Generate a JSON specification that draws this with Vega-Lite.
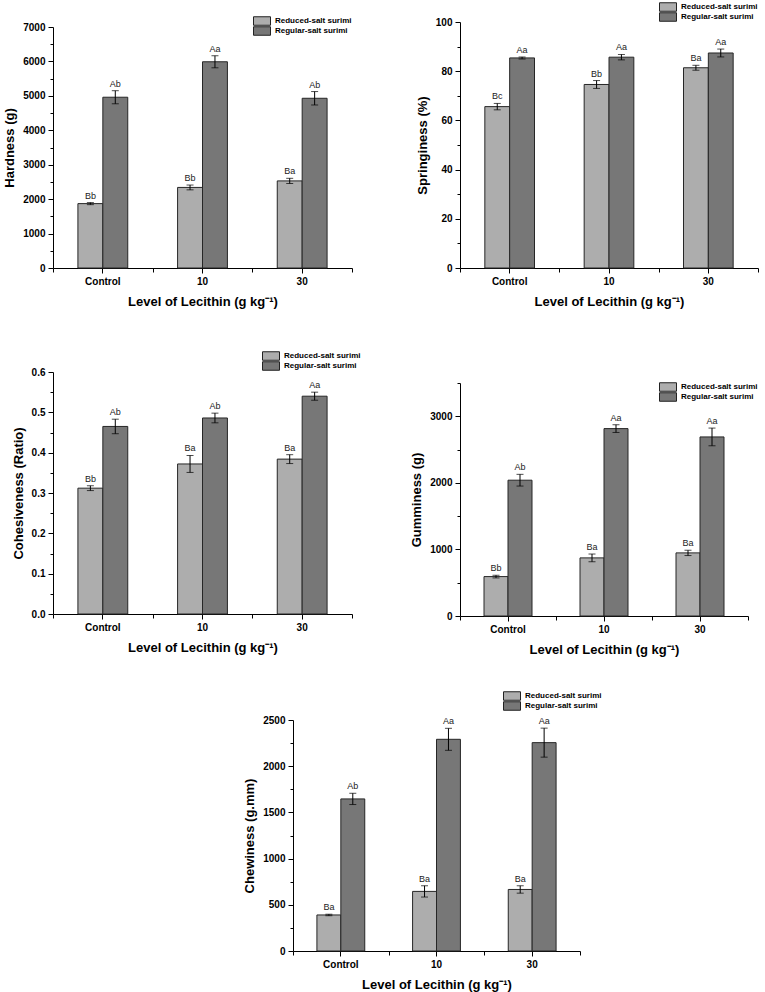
{
  "$schema": "https://vega.github.io/schema/vega-lite/v6.json",
  "background": "white",
  "padding": {"left": 3, "top": 2, "right": 2, "bottom": 2},
  "datasets": {
    "d": [
      {"p": "A", "level": "Control", "salt": "Reduced-salt surimi", "value": 1870, "lo": 1840, "hi": 1900, "letter": "Bb"},
      {"p": "A", "level": "Control", "salt": "Regular-salt surimi", "value": 4960, "lo": 4770, "hi": 5150, "letter": "Ab"},
      {"p": "A", "level": "10", "salt": "Reduced-salt surimi", "value": 2340, "lo": 2270, "hi": 2410, "letter": "Bb"},
      {"p": "A", "level": "10", "salt": "Regular-salt surimi", "value": 5990, "lo": 5815, "hi": 6165, "letter": "Aa"},
      {"p": "A", "level": "30", "salt": "Reduced-salt surimi", "value": 2530, "lo": 2455, "hi": 2605, "letter": "Ba"},
      {"p": "A", "level": "30", "salt": "Regular-salt surimi", "value": 4930, "lo": 4735, "hi": 5125, "letter": "Ab"},
      {"p": "B", "level": "Control", "salt": "Reduced-salt surimi", "value": 65.6, "lo": 64.3, "hi": 66.9, "letter": "Bc"},
      {"p": "B", "level": "Control", "salt": "Regular-salt surimi", "value": 85.4, "lo": 85.0, "hi": 85.8, "letter": "Aa"},
      {"p": "B", "level": "10", "salt": "Reduced-salt surimi", "value": 74.6, "lo": 73.0, "hi": 76.2, "letter": "Bb"},
      {"p": "B", "level": "10", "salt": "Regular-salt surimi", "value": 85.7, "lo": 84.6, "hi": 86.8, "letter": "Aa"},
      {"p": "B", "level": "30", "salt": "Reduced-salt surimi", "value": 81.4, "lo": 80.4, "hi": 82.4, "letter": "Ba"},
      {"p": "B", "level": "30", "salt": "Regular-salt surimi", "value": 87.4, "lo": 85.8, "hi": 89.0, "letter": "Aa"},
      {"p": "C", "level": "Control", "salt": "Reduced-salt surimi", "value": 0.312, "lo": 0.306, "hi": 0.318, "letter": "Bb"},
      {"p": "C", "level": "Control", "salt": "Regular-salt surimi", "value": 0.465, "lo": 0.447, "hi": 0.483, "letter": "Ab"},
      {"p": "C", "level": "10", "salt": "Reduced-salt surimi", "value": 0.372, "lo": 0.351, "hi": 0.393, "letter": "Ba"},
      {"p": "C", "level": "10", "salt": "Regular-salt surimi", "value": 0.486, "lo": 0.474, "hi": 0.498, "letter": "Ab"},
      {"p": "C", "level": "30", "salt": "Reduced-salt surimi", "value": 0.384, "lo": 0.373, "hi": 0.395, "letter": "Ba"},
      {"p": "C", "level": "30", "salt": "Regular-salt surimi", "value": 0.540, "lo": 0.530, "hi": 0.550, "letter": "Aa"},
      {"p": "D", "level": "Control", "salt": "Reduced-salt surimi", "value": 592, "lo": 572, "hi": 612, "letter": "Bb"},
      {"p": "D", "level": "Control", "salt": "Regular-salt surimi", "value": 2040, "lo": 1952, "hi": 2128, "letter": "Ab"},
      {"p": "D", "level": "10", "salt": "Reduced-salt surimi", "value": 873, "lo": 815, "hi": 931, "letter": "Ba"},
      {"p": "D", "level": "10", "salt": "Regular-salt surimi", "value": 2815, "lo": 2757, "hi": 2873, "letter": "Aa"},
      {"p": "D", "level": "30", "salt": "Reduced-salt surimi", "value": 948, "lo": 908, "hi": 988, "letter": "Ba"},
      {"p": "D", "level": "30", "salt": "Regular-salt surimi", "value": 2690, "lo": 2557, "hi": 2823, "letter": "Aa"},
      {"p": "E", "level": "Control", "salt": "Reduced-salt surimi", "value": 390, "lo": 382, "hi": 398, "letter": "Ba"},
      {"p": "E", "level": "Control", "salt": "Regular-salt surimi", "value": 1646, "lo": 1585, "hi": 1707, "letter": "Ab"},
      {"p": "E", "level": "10", "salt": "Reduced-salt surimi", "value": 645, "lo": 584, "hi": 706, "letter": "Ba"},
      {"p": "E", "level": "10", "salt": "Regular-salt surimi", "value": 2291, "lo": 2172, "hi": 2410, "letter": "Aa"},
      {"p": "E", "level": "30", "salt": "Reduced-salt surimi", "value": 666, "lo": 626, "hi": 706, "letter": "Ba"},
      {"p": "E", "level": "30", "salt": "Regular-salt surimi", "value": 2255, "lo": 2098, "hi": 2412, "letter": "Aa"}
    ]
  },
  "data": {"name": "d"},
  "columns": 2,
  "align": "none",
  "bounds": "flush",
  "spacing": {"row": 104, "column": 108},
  "resolve": {
    "scale": {"x": "independent", "y": "independent", "color": "independent", "xOffset": "independent"},
    "axis": {"x": "independent", "y": "independent"},
    "legend": {"color": "independent"}
  },
  "concat": [
    {
      "width": 299, "height": 246,
      "transform": [{"filter": "datum.p == 'A'"}],
      "resolve": {"axis": {"x": "independent", "y": "independent"}},
      "layer": [
        {"mark": {"type": "bar", "stroke": "#262626", "strokeWidth": 1},
         "encoding": {
           "x": {"field": "level", "type": "nominal", "sort": ["Control", "10", "30"], "scale": {"paddingInner": 0, "paddingOuter": 0}, "axis": {"title": "Level of Lecithin (g kg⁻¹)", "labelAngle": 0}},
           "xOffset": {"field": "salt", "type": "nominal", "sort": ["Reduced-salt surimi", "Regular-salt surimi"], "scale": {"paddingInner": 0, "paddingOuter": 1}},
           "y": {"field": "value", "type": "quantitative", "scale": {"domain": [0, 7000], "nice": false, "range": [246, 5]}, "axis": {"values": [0, 1000, 2000, 3000, 4000, 5000, 6000, 7000], "title": "Hardness (g)", "format": "d"}},
           "color": {"field": "salt", "type": "nominal", "scale": {"domain": ["Reduced-salt surimi", "Regular-salt surimi"], "range": ["#adadad", "#777777"]},
             "legend": {"title": null, "orient": "none", "legendX": 204, "legendY": -6}}
         }},
        {"mark": {"type": "rule", "color": "#000000", "strokeWidth": 1},
         "encoding": {
           "x": {"field": "level", "type": "nominal", "sort": ["Control", "10", "30"], "axis": null},
           "xOffset": {"field": "salt", "type": "nominal", "sort": ["Reduced-salt surimi", "Regular-salt surimi"]},
           "y": {"field": "lo", "type": "quantitative", "axis": null}, "y2": {"field": "hi"}
         }},
        {"mark": {"type": "tick", "color": "#000000", "size": 7, "thickness": 1},
         "encoding": {
           "x": {"field": "level", "type": "nominal", "sort": ["Control", "10", "30"], "axis": null},
           "xOffset": {"field": "salt", "type": "nominal", "sort": ["Reduced-salt surimi", "Regular-salt surimi"]},
           "y": {"field": "lo", "type": "quantitative", "axis": null}
         }},
        {"mark": {"type": "tick", "color": "#000000", "size": 7, "thickness": 1},
         "encoding": {
           "x": {"field": "level", "type": "nominal", "sort": ["Control", "10", "30"], "axis": {"orient": "bottom", "tickBand": "extent", "labels": false, "domain": false, "title": null, "tickSize": 4}},
           "xOffset": {"field": "salt", "type": "nominal", "sort": ["Reduced-salt surimi", "Regular-salt surimi"]},
           "y": {"field": "hi", "type": "quantitative", "axis": {"orient": "left", "values": [500, 1500, 2500, 3500, 4500, 5500, 6500], "labels": false, "domain": false, "title": null, "tickSize": 3}}
         }},
        {"mark": {"type": "text", "baseline": "bottom", "dy": -2, "fontSize": 9, "color": "#222222"},
         "encoding": {
           "x": {"field": "level", "type": "nominal", "sort": ["Control", "10", "30"], "axis": null},
           "xOffset": {"field": "salt", "type": "nominal", "sort": ["Reduced-salt surimi", "Regular-salt surimi"]},
           "y": {"field": "hi", "type": "quantitative", "axis": null},
           "text": {"field": "letter"}
         }}
      ]
    },
    {
      "width": 298, "height": 246,
      "transform": [{"filter": "datum.p == 'B'"}],
      "resolve": {"axis": {"x": "independent", "y": "independent"}},
      "layer": [
        {"mark": {"type": "bar", "stroke": "#262626", "strokeWidth": 1},
         "encoding": {
           "x": {"field": "level", "type": "nominal", "sort": ["Control", "10", "30"], "scale": {"paddingInner": 0, "paddingOuter": 0}, "axis": {"title": "Level of Lecithin (g kg⁻¹)", "labelAngle": 0}},
           "xOffset": {"field": "salt", "type": "nominal", "sort": ["Reduced-salt surimi", "Regular-salt surimi"], "scale": {"paddingInner": 0, "paddingOuter": 1}},
           "y": {"field": "value", "type": "quantitative", "scale": {"domain": [0, 100], "nice": false}, "axis": {"values": [0, 20, 40, 60, 80, 100], "title": "Springiness (%)", "format": "d"}},
           "color": {"field": "salt", "type": "nominal", "scale": {"domain": ["Reduced-salt surimi", "Regular-salt surimi"], "range": ["#adadad", "#777777"]},
             "legend": {"title": null, "orient": "none", "legendX": 203, "legendY": -20}}
         }},
        {"mark": {"type": "rule", "color": "#000000", "strokeWidth": 1},
         "encoding": {
           "x": {"field": "level", "type": "nominal", "sort": ["Control", "10", "30"], "axis": null},
           "xOffset": {"field": "salt", "type": "nominal", "sort": ["Reduced-salt surimi", "Regular-salt surimi"]},
           "y": {"field": "lo", "type": "quantitative", "axis": null}, "y2": {"field": "hi"}
         }},
        {"mark": {"type": "tick", "color": "#000000", "size": 7, "thickness": 1},
         "encoding": {
           "x": {"field": "level", "type": "nominal", "sort": ["Control", "10", "30"], "axis": null},
           "xOffset": {"field": "salt", "type": "nominal", "sort": ["Reduced-salt surimi", "Regular-salt surimi"]},
           "y": {"field": "lo", "type": "quantitative", "axis": null}
         }},
        {"mark": {"type": "tick", "color": "#000000", "size": 7, "thickness": 1},
         "encoding": {
           "x": {"field": "level", "type": "nominal", "sort": ["Control", "10", "30"], "axis": {"orient": "bottom", "tickBand": "extent", "labels": false, "domain": false, "title": null, "tickSize": 4}},
           "xOffset": {"field": "salt", "type": "nominal", "sort": ["Reduced-salt surimi", "Regular-salt surimi"]},
           "y": {"field": "hi", "type": "quantitative", "axis": {"orient": "left", "values": [10, 30, 50, 70, 90], "labels": false, "domain": false, "title": null, "tickSize": 3}}
         }},
        {"mark": {"type": "text", "baseline": "bottom", "dy": -2, "fontSize": 9, "color": "#222222"},
         "encoding": {
           "x": {"field": "level", "type": "nominal", "sort": ["Control", "10", "30"], "axis": null},
           "xOffset": {"field": "salt", "type": "nominal", "sort": ["Reduced-salt surimi", "Regular-salt surimi"]},
           "y": {"field": "hi", "type": "quantitative", "axis": null},
           "text": {"field": "letter"}
         }}
      ]
    },
    {
      "width": 299, "height": 242,
      "transform": [{"filter": "datum.p == 'C'"}],
      "resolve": {"axis": {"x": "independent", "y": "independent"}},
      "layer": [
        {"mark": {"type": "bar", "stroke": "#262626", "strokeWidth": 1},
         "encoding": {
           "x": {"field": "level", "type": "nominal", "sort": ["Control", "10", "30"], "scale": {"paddingInner": 0, "paddingOuter": 0}, "axis": {"title": "Level of Lecithin (g kg⁻¹)", "labelAngle": 0}},
           "xOffset": {"field": "salt", "type": "nominal", "sort": ["Reduced-salt surimi", "Regular-salt surimi"], "scale": {"paddingInner": 0, "paddingOuter": 1}},
           "y": {"field": "value", "type": "quantitative", "scale": {"domain": [0, 0.6], "nice": false}, "axis": {"values": [0, 0.1, 0.2, 0.3, 0.4, 0.5, 0.6], "title": "Cohesiveness (Ratio)", "format": ".1f"}},
           "color": {"field": "salt", "type": "nominal", "scale": {"domain": ["Reduced-salt surimi", "Regular-salt surimi"], "range": ["#adadad", "#777777"]},
             "legend": {"title": null, "orient": "none", "legendX": 213, "legendY": -21}}
         }},
        {"mark": {"type": "rule", "color": "#000000", "strokeWidth": 1},
         "encoding": {
           "x": {"field": "level", "type": "nominal", "sort": ["Control", "10", "30"], "axis": null},
           "xOffset": {"field": "salt", "type": "nominal", "sort": ["Reduced-salt surimi", "Regular-salt surimi"]},
           "y": {"field": "lo", "type": "quantitative", "axis": null}, "y2": {"field": "hi"}
         }},
        {"mark": {"type": "tick", "color": "#000000", "size": 7, "thickness": 1},
         "encoding": {
           "x": {"field": "level", "type": "nominal", "sort": ["Control", "10", "30"], "axis": null},
           "xOffset": {"field": "salt", "type": "nominal", "sort": ["Reduced-salt surimi", "Regular-salt surimi"]},
           "y": {"field": "lo", "type": "quantitative", "axis": null}
         }},
        {"mark": {"type": "tick", "color": "#000000", "size": 7, "thickness": 1},
         "encoding": {
           "x": {"field": "level", "type": "nominal", "sort": ["Control", "10", "30"], "axis": {"orient": "bottom", "tickBand": "extent", "labels": false, "domain": false, "title": null, "tickSize": 4}},
           "xOffset": {"field": "salt", "type": "nominal", "sort": ["Reduced-salt surimi", "Regular-salt surimi"]},
           "y": {"field": "hi", "type": "quantitative", "axis": {"orient": "left", "values": [0.05, 0.15, 0.25, 0.35, 0.45, 0.55], "labels": false, "domain": false, "title": null, "tickSize": 3}}
         }},
        {"mark": {"type": "text", "baseline": "bottom", "dy": -2, "fontSize": 9, "color": "#222222"},
         "encoding": {
           "x": {"field": "level", "type": "nominal", "sort": ["Control", "10", "30"], "axis": null},
           "xOffset": {"field": "salt", "type": "nominal", "sort": ["Reduced-salt surimi", "Regular-salt surimi"]},
           "y": {"field": "hi", "type": "quantitative", "axis": null},
           "text": {"field": "letter"}
         }}
      ]
    },
    {
      "width": 288, "height": 244,
      "transform": [{"filter": "datum.p == 'D'"}],
      "resolve": {"axis": {"x": "independent", "y": "independent"}},
      "layer": [
        {"mark": {"type": "bar", "stroke": "#262626", "strokeWidth": 1},
         "encoding": {
           "x": {"field": "level", "type": "nominal", "sort": ["Control", "10", "30"], "scale": {"paddingInner": 0, "paddingOuter": 0}, "axis": {"title": "Level of Lecithin (g kg⁻¹)", "labelAngle": 0}},
           "xOffset": {"field": "salt", "type": "nominal", "sort": ["Reduced-salt surimi", "Regular-salt surimi"], "scale": {"paddingInner": 0, "paddingOuter": 1}},
           "y": {"field": "value", "type": "quantitative", "scale": {"domain": [0, 3500], "nice": false, "range": [244, 11]}, "axis": {"values": [0, 1000, 2000, 3000], "title": "Gumminess (g)", "format": "d"}},
           "color": {"field": "salt", "type": "nominal", "scale": {"domain": ["Reduced-salt surimi", "Regular-salt surimi"], "range": ["#adadad", "#777777"]},
             "legend": {"title": null, "orient": "none", "legendX": 203, "legendY": 10}}
         }},
        {"mark": {"type": "rule", "color": "#000000", "strokeWidth": 1},
         "encoding": {
           "x": {"field": "level", "type": "nominal", "sort": ["Control", "10", "30"], "axis": null},
           "xOffset": {"field": "salt", "type": "nominal", "sort": ["Reduced-salt surimi", "Regular-salt surimi"]},
           "y": {"field": "lo", "type": "quantitative", "axis": null}, "y2": {"field": "hi"}
         }},
        {"mark": {"type": "tick", "color": "#000000", "size": 7, "thickness": 1},
         "encoding": {
           "x": {"field": "level", "type": "nominal", "sort": ["Control", "10", "30"], "axis": null},
           "xOffset": {"field": "salt", "type": "nominal", "sort": ["Reduced-salt surimi", "Regular-salt surimi"]},
           "y": {"field": "lo", "type": "quantitative", "axis": null}
         }},
        {"mark": {"type": "tick", "color": "#000000", "size": 7, "thickness": 1},
         "encoding": {
           "x": {"field": "level", "type": "nominal", "sort": ["Control", "10", "30"], "axis": {"orient": "bottom", "tickBand": "extent", "labels": false, "domain": false, "title": null, "tickSize": 4}},
           "xOffset": {"field": "salt", "type": "nominal", "sort": ["Reduced-salt surimi", "Regular-salt surimi"]},
           "y": {"field": "hi", "type": "quantitative", "axis": {"orient": "left", "values": [500, 1500, 2500, 3500], "labels": false, "domain": false, "title": null, "tickSize": 3}}
         }},
        {"mark": {"type": "text", "baseline": "bottom", "dy": -2, "fontSize": 9, "color": "#222222"},
         "encoding": {
           "x": {"field": "level", "type": "nominal", "sort": ["Control", "10", "30"], "axis": null},
           "xOffset": {"field": "salt", "type": "nominal", "sort": ["Reduced-salt surimi", "Regular-salt surimi"]},
           "y": {"field": "hi", "type": "quantitative", "axis": null},
           "text": {"field": "letter"}
         }}
      ]
    },
    {
      "width": 299, "height": 231,
      "transform": [{"filter": "datum.p == 'E'"}],
      "resolve": {"axis": {"x": "independent", "y": "independent"}},
      "layer": [
        {"mark": {"type": "bar", "stroke": "#262626", "strokeWidth": 1},
         "encoding": {
           "x": {"field": "level", "type": "nominal", "sort": ["Control", "10", "30"], "scale": {"paddingInner": 0, "paddingOuter": 0, "range": [240, 527]}, "axis": {"title": "Level of Lecithin (g kg⁻¹)", "labelAngle": 0}},
           "xOffset": {"field": "salt", "type": "nominal", "sort": ["Reduced-salt surimi", "Regular-salt surimi"], "scale": {"paddingInner": 0, "paddingOuter": 1}},
           "y": {"field": "value", "type": "quantitative", "scale": {"domain": [0, 2500], "nice": false}, "axis": {"offset": -240, "values": [0, 500, 1000, 1500, 2000, 2500], "title": "Chewiness (g.mm)", "format": "d"}},
           "color": {"field": "salt", "type": "nominal", "scale": {"domain": ["Reduced-salt surimi", "Regular-salt surimi"], "range": ["#adadad", "#777777"]},
             "legend": {"title": null, "orient": "none", "legendX": 454, "legendY": -29}}
         }},
        {"mark": {"type": "rule", "color": "#000000", "strokeWidth": 1},
         "encoding": {
           "x": {"field": "level", "type": "nominal", "sort": ["Control", "10", "30"], "axis": null},
           "xOffset": {"field": "salt", "type": "nominal", "sort": ["Reduced-salt surimi", "Regular-salt surimi"]},
           "y": {"field": "lo", "type": "quantitative", "axis": null}, "y2": {"field": "hi"}
         }},
        {"mark": {"type": "tick", "color": "#000000", "size": 7, "thickness": 1},
         "encoding": {
           "x": {"field": "level", "type": "nominal", "sort": ["Control", "10", "30"], "axis": null},
           "xOffset": {"field": "salt", "type": "nominal", "sort": ["Reduced-salt surimi", "Regular-salt surimi"]},
           "y": {"field": "lo", "type": "quantitative", "axis": null}
         }},
        {"mark": {"type": "tick", "color": "#000000", "size": 7, "thickness": 1},
         "encoding": {
           "x": {"field": "level", "type": "nominal", "sort": ["Control", "10", "30"], "axis": {"orient": "bottom", "tickBand": "extent", "labels": false, "domain": false, "title": null, "tickSize": 4}},
           "xOffset": {"field": "salt", "type": "nominal", "sort": ["Reduced-salt surimi", "Regular-salt surimi"]},
           "y": {"field": "hi", "type": "quantitative", "axis": {"orient": "left", "offset": -240, "values": [250, 750, 1250, 1750, 2250], "labels": false, "domain": false, "title": null, "tickSize": 3}}
         }},
        {"mark": {"type": "text", "baseline": "bottom", "dy": -2, "fontSize": 9, "color": "#222222"},
         "encoding": {
           "x": {"field": "level", "type": "nominal", "sort": ["Control", "10", "30"], "axis": null},
           "xOffset": {"field": "salt", "type": "nominal", "sort": ["Reduced-salt surimi", "Regular-salt surimi"]},
           "y": {"field": "hi", "type": "quantitative", "axis": null},
           "text": {"field": "letter"}
         }}
      ]
    }
  ],
  "config": {
    "font": "Liberation Sans",
    "view": {"stroke": null},
    "axis": {"labelFont": "Liberation Sans", "titleFont": "Liberation Sans", "labelFontSize": 10, "labelFontWeight": "bold", "labelColor": "#000000", "titleFontSize": 13, "titleFontWeight": "bold", "titleColor": "#000000", "domainColor": "#000000", "domainWidth": 1, "tickColor": "#000000", "tickWidth": 1, "grid": false, "tickSize": 5, "labelPadding": 3, "titlePadding": 6},
    "axisX": {"titlePadding": 9},
    "legend": {"labelFont": "Liberation Sans", "padding": 0, "gridAlign": "none", "symbolType": "M-2,-1H2V1H-2Z", "symbolSize": 72.25, "symbolStrokeColor": "#222222", "symbolStrokeWidth": 1, "symbolOpacity": 1, "labelFontSize": 8, "labelFontWeight": "bold", "labelColor": "#000000", "rowPadding": -4, "labelOffset": 8}
  }
}
